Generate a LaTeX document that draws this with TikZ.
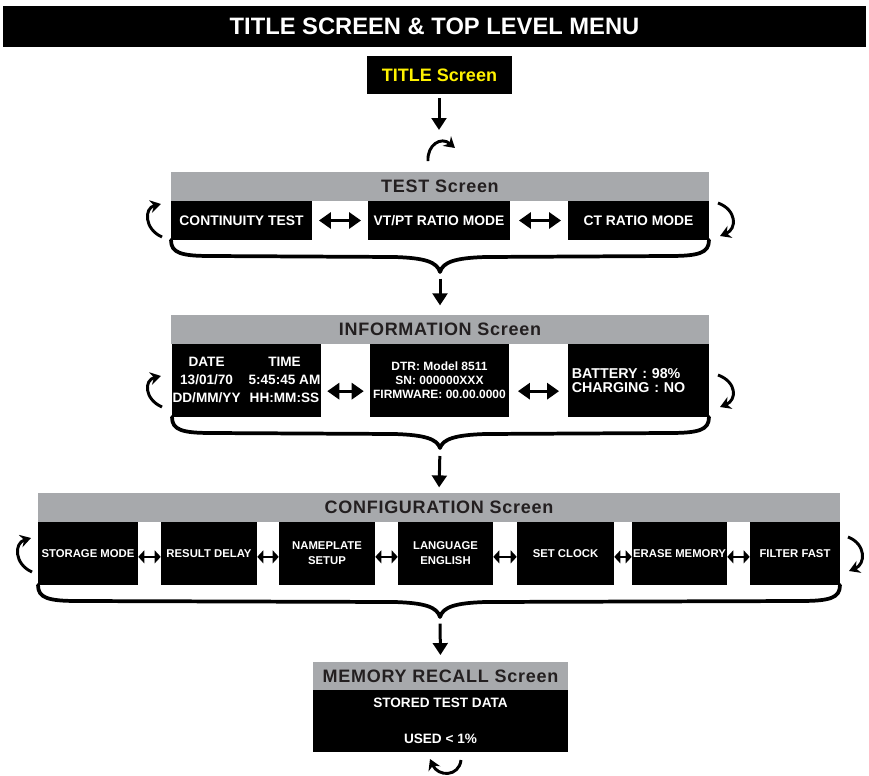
\documentclass[tikz,border=0pt]{standalone}
\usepackage{fontspec}
\setmainfont{Liberation Sans}
\newfontfamily\spacedfont{Liberation Sans}[LetterSpace=4]
\usetikzlibrary{arrows.meta,calc}
\definecolor{barGray}{HTML}{A7A9AC}
\definecolor{barText}{HTML}{231F20}
\definecolor{titleYellow}{HTML}{FFF200}
\newcommand{\menubrace}[4]{%
  \draw[bracestyle] (#1,#3) .. controls (#1,#3+13) and (#1+10,#3+16) .. (#1+40,#3+16)
    -- (440-45,#3+17) .. controls (440-15,#3+18) and (440-3,#3+22) .. (440,#4)
    .. controls (440+3,#3+22) and (440+15,#3+18) .. (440+45,#3+17)
    -- (#2-40,#3+16) .. controls (#2-10,#3+16) and (#2,#3+13) .. (#2,#3);}
\begin{document}
\begin{tikzpicture}[x=0.75pt,y=-0.75pt,
  sz/.style 2 args={minimum width=#1*0.75pt,minimum height=#2*0.75pt},
  blackbox/.style={fill=black,text=white,inner sep=0pt,font=\bfseries\fontsize{10.4}{11}\selectfont},
  cfgbox/.style={fill=black,text=white,inner sep=0pt,align=center,font=\bfseries\fontsize{8.5}{11.25}\selectfont},
  graybar/.style={fill=barGray,text=barText,inner sep=0pt,font=\spacedfont\bfseries\fontsize{13.5}{16}\selectfont},
  downarr/.style={line width=2.25pt,-{Triangle[length=9pt,width=11pt]}},
  dblarr/.style={line width=2.25pt,{Triangle[length=9pt,width=12pt]}-{Triangle[length=9pt,width=12pt]}},
  smalldbl/.style={line width=1.8pt,{Triangle[length=4.5pt,width=9.5pt]}-{Triangle[length=4.5pt,width=9.5pt]}},
  curlarr/.style={line width=2.2pt,-{Stealth[length=8pt,width=9.5pt]}},
  bracestyle/.style={line width=2.8pt,line cap=round,line join=round},
]
\useasboundingbox (0,0) rectangle (869,776);

% header
\node[fill=black,text=white,inner sep=0pt,font=\bfseries\fontsize{17.8}{20}\selectfont,
  sz={863}{41}] (hdr) at (434.5,26.5) {TITLE SCREEN \& TOP LEVEL MENU};

% title screen
\node[fill=black,text=titleYellow,inner sep=0pt,font=\bfseries\fontsize{13.5}{16}\selectfont,
  sz={145}{38}] (tbox) at (439.5,75) {TITLE Screen};
\coordinate (tarr) at (439,130);
\draw[downarr,shorten <=3pt] (tbox.south -| tarr) -- (tarr);
\draw[curlarr] (428,161) .. controls (427,145) and (441,136) .. (455,148);

% TEST screen
\node[graybar,sz={538}{29}] (tg) at (440,186.5) {TEST Screen};
\node[blackbox,sz={141}{39}] (t1) at (241.5,220.5) {CONTINUITY TEST};
\node[blackbox,sz={142}{39}] (t2) at (439,220.5) {VT/PT RATIO MODE};
\node[blackbox,sz={141}{39}] (t3) at (638.5,220.5) {CT RATIO MODE};
\draw[dblarr,shorten <=5pt,shorten >=5pt] (t1.east) -- (t2.west);
\draw[dblarr,shorten <=6.5pt,shorten >=5pt] (t2.east) -- (t3.west);
\draw[curlarr] (162,237) .. controls (144,229) and (144,208) .. (161,204);
\draw[curlarr] (718,203) .. controls (737,210) and (737,229) .. (720,236);
\menubrace{171}{709}{240}{272}
\coordinate (bp1) at (440,272);

% INFORMATION screen
\node[graybar,sz={538}{29}] (ig) at (440,329.5) {INFORMATION Screen};
\draw[downarr,shorten <=5pt,shorten >=7pt] (bp1) -- (ig.north);
\node[blackbox,sz={149}{73},font=\bfseries\fontsize{10.2}{13.5}\selectfont] (i1) at (246.5,380.5)
  {\begin{tabular}{@{}c@{\hspace{6pt}}c@{}}DATE & TIME\\ 13/01/70 & 5:45:45 AM\\ DD/MM/YY & HH:MM:SS\end{tabular}};
\node[blackbox,sz={139}{73},align=center,font=\bfseries\fontsize{9}{10.5}\selectfont] (i2) at (439.5,380.5)
  {DTR: Model 8511\\ SN: 000000XXX\\ FIRMWARE: 00.00.0000};
\node[blackbox,sz={141}{73},align=left,text width=100pt,font=\bfseries\fontsize{10.7}{10.7}\selectfont] (i3) at (638.5,380.5)
  {BATTERY : 98\%\\ CHARGING : NO};
\draw[dblarr,shorten <=4.5pt,shorten >=4.5pt] ([yshift=-8pt]i1.east) -- ([yshift=-8pt]i2.west);
\draw[dblarr,shorten <=6.5pt,shorten >=6.5pt] ([yshift=-8pt]i2.east) -- ([yshift=-8pt]i3.west);
\draw[curlarr] (162,407) .. controls (144,399) and (144,380) .. (161,376);
\draw[curlarr] (718,375) .. controls (737,382) and (737,400) .. (720,407);
\menubrace{172}{709}{417}{448}
\coordinate (bp2) at (440,448);

% CONFIGURATION screen
\node[graybar,sz={802}{29}] (cg) at (439,507.5) {CONFIGURATION Screen};
\draw[downarr,shorten <=6pt,shorten >=4pt] (bp2) -- (cg.north);
\node[cfgbox,sz={100}{63}] (c1) at (88,553.5) {STORAGE MODE};
\node[cfgbox,sz={96}{63}] (c2) at (209,553.5) {RESULT DELAY};
\node[cfgbox,sz={96}{63}] (c3) at (327,553.5) {NAMEPLATE\\SETUP};
\node[cfgbox,sz={95}{63}] (c4) at (445.5,553.5) {LANGUAGE\\ENGLISH};
\node[cfgbox,sz={97}{63}] (c5) at (565.5,553.5) {SET CLOCK};
\node[cfgbox,sz={95}{63}] (c6) at (679.5,553.5) {ERASE MEMORY};
\node[cfgbox,sz={90}{63}] (c7) at (795,553.5) {FILTER FAST};
\foreach \a/\b in {c1/c2,c2/c3,c3/c4,c4/c5,c5/c6,c6/c7}
  \draw[smalldbl] ([yshift=-2.5pt]\a.east) -- ([yshift=-2.5pt]\b.west);
\draw[curlarr] (32,572) .. controls (14,564) and (14,543) .. (31,538);
\draw[curlarr] (848,537) .. controls (866,544) and (866,564) .. (849,571);
\menubrace{38}{840}{585}{617}
\coordinate (bp3) at (440,617);

% MEMORY RECALL screen
\node[graybar,sz={255}{28}] (mg) at (440.5,676) {MEMORY RECALL Screen};
\draw[downarr,shorten <=5pt,shorten >=5pt] (bp3) -- (mg.north);
\node[blackbox,sz={255}{62},align=center,font=\bfseries\fontsize{10.2}{27}\selectfont] (mbox) at (440.5,721)
  {STORED TEST DATA\\ USED < 1\%};
\draw[curlarr] (461,760) .. controls (459,777) and (438,777) .. (430,759);
\end{tikzpicture}
\end{document}
